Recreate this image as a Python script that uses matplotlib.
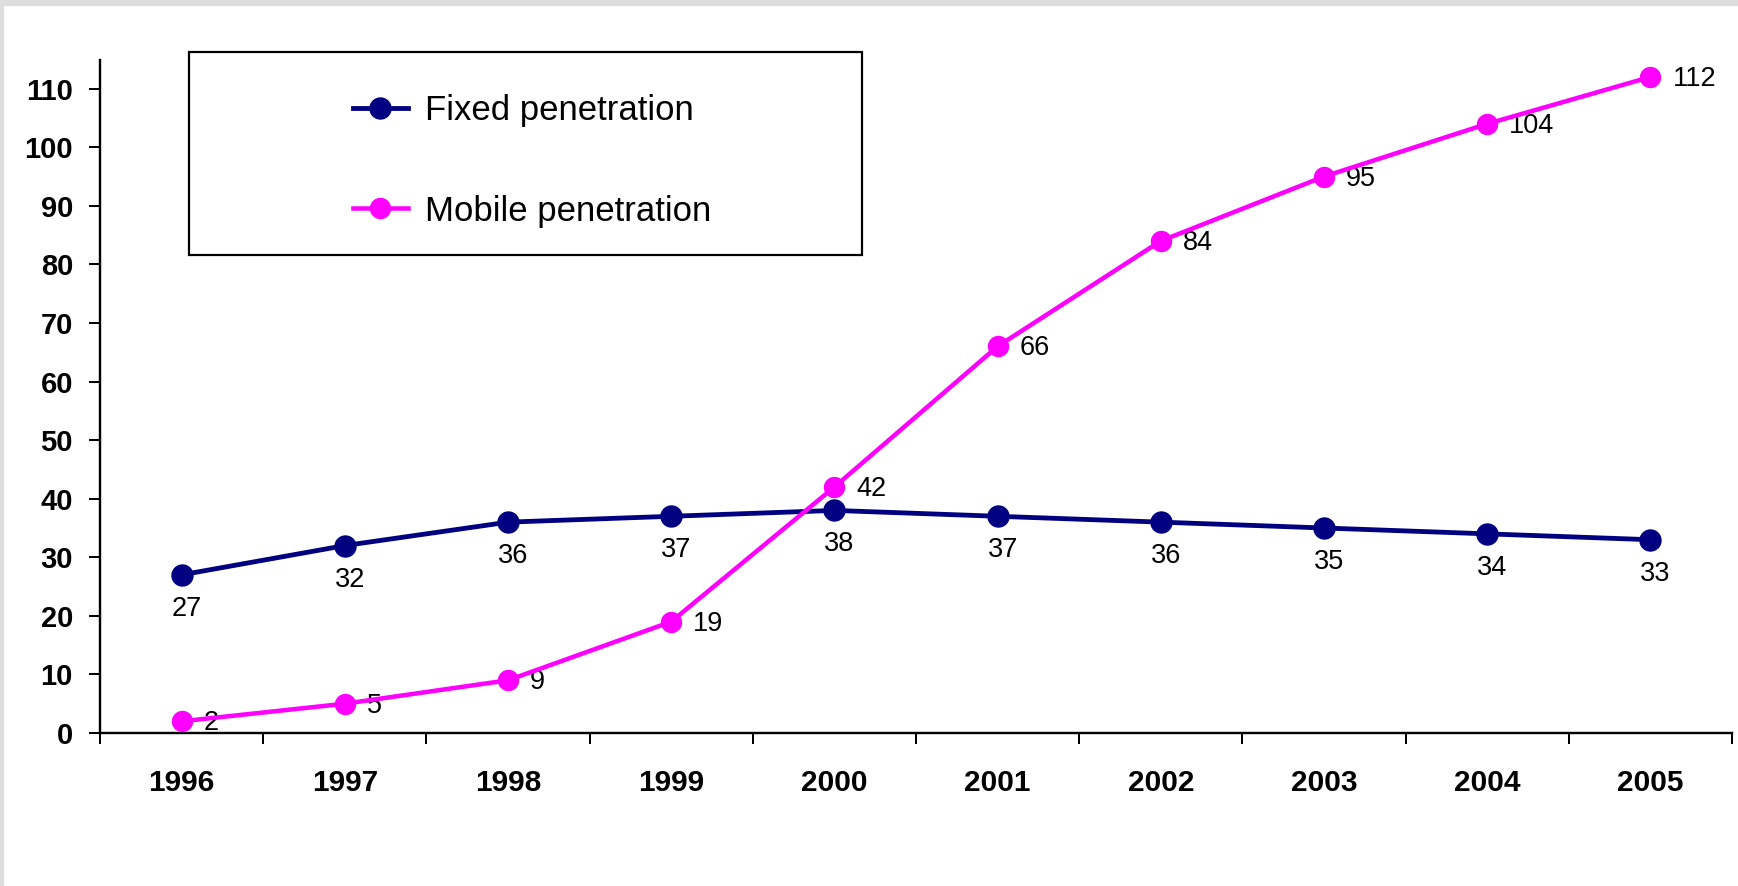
import matplotlib
matplotlib.use("Agg")
import matplotlib.pyplot as plt
from matplotlib import font_manager
from matplotlib.patches import Rectangle

years = ["1996", "1997", "1998", "1999", "2000", "2001", "2002", "2003", "2004", "2005"]
fixed = [27, 32, 36, 37, 38, 37, 36, 35, 34, 33]
mobile = [2, 5, 9, 19, 42, 66, 84, 95, 104, 112]
yticks = [0, 10, 20, 30, 40, 50, 60, 70, 80, 90, 100, 110]

W, H, DPI = 1738, 886, 100
PX = 72 / DPI  # points per pixel

# narrow font for labels/legend if we have it
names = {f.name for f in font_manager.fontManager.ttflist}
if "Liberation Sans Narrow" in names:
    narrow = "Liberation Sans Narrow"
    lab_size, leg_size = 22, 29
else:
    narrow = "Liberation Sans"
    lab_size, leg_size = 19.5, 25

plt.rcParams["font.family"] = ["Liberation Sans", "DejaVu Sans"]

fig = plt.figure(figsize=(W / DPI, H / DPI), dpi=DPI)
fig.patch.set_facecolor("white")
# grey strips top / left
fig.patches.append(Rectangle((0, 1 - 5 / H), 1, 5 / H, transform=fig.transFigure,
                             color="#dedede", zorder=0))
fig.patches.append(Rectangle((0, 0), 3 / W, 1, transform=fig.transFigure,
                             color="#dedede", zorder=0))

ax = fig.add_axes([100 / W, (H - 733) / H, (1732 - 100) / W, (733 - 60) / H])
x = list(range(len(years)))

ax.plot(x, fixed, color="#000080", lw=4.8 * PX, marker="o", ms=21 * PX,
        label="Fixed penetration", zorder=3, clip_on=False)
ax.plot(x, mobile, color="#ff00ff", lw=4.5 * PX, marker="o", ms=20 * PX,
        label="Mobile penetration", zorder=4, clip_on=False)

for xi, v in zip(x, fixed):
    ax.annotate(str(v), (xi, v), xytext=(5 * PX, -34 * PX), textcoords="offset points",
                ha="center", va="center", fontsize=lab_size, family=narrow)
for xi, v in zip(x, mobile):
    ax.annotate(str(v), (xi, v), xytext=(22 * PX, -2 * PX), textcoords="offset points",
                ha="left", va="center", fontsize=lab_size, family=narrow)

ax.set_xlim(-0.5, len(years) - 0.5)
ax.set_ylim(0, 114.9)
ax.set_yticks(yticks)
ax.set_yticklabels([str(t) for t in yticks], fontsize=21, fontweight="bold")

ax.set_xticks([i - 0.5 for i in range(len(years) + 1)])
ax.set_xticklabels([])
ax.set_xticks(x, minor=True)
ax.set_xticklabels(years, minor=True, fontsize=21.5, fontweight="bold")
ax.tick_params(axis="x", which="major", direction="out", length=11 * PX, width=2 * PX)
ax.tick_params(axis="x", which="minor", length=0, pad=36 * PX)
ax.tick_params(axis="y", direction="out", length=11 * PX, width=2 * PX, pad=16 * PX)

for s in ["top", "right"]:
    ax.spines[s].set_visible(False)
for s in ["left", "bottom"]:
    ax.spines[s].set_linewidth(2.4 * PX)

# legend box
fig.patches.append(Rectangle((189 / W, (H - 255) / H), 673 / W, 203 / H,
                             transform=fig.transFigure, fill=False,
                             edgecolor="black", lw=2.2 * PX, zorder=5))
fs_px = leg_size / PX
fig.legend(loc="center", bbox_to_anchor=(532 / W, 1 - 161 / H),
           frameon=False, prop={"family": narrow, "size": leg_size},
           handlelength=55 / fs_px, handletextpad=17 / fs_px,
           labelspacing=(107 - fs_px * 1.15) / fs_px, borderpad=0, borderaxespad=0)

fig.savefig("out.png", dpi=DPI)
